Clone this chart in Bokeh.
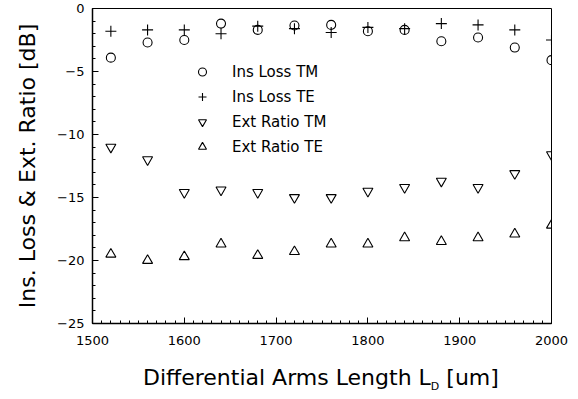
from bokeh.plotting import figure
from bokeh.models import Range1d, FixedTicker, Legend, Div
from bokeh.layouts import column
from bokeh.embed import file_html
from bokeh.resources import INLINE

# ---- data ----
lengths = [1520, 1560, 1600, 1640, 1680, 1720, 1760, 1800, 1840, 1880, 1920, 1960, 2000]
ins_loss_tm = [-3.9, -2.7, -2.5, -1.2, -1.7, -1.35, -1.3, -1.8, -1.7, -2.6, -2.3, -3.1, -4.1]
ins_loss_te = [-1.8, -1.7, -1.7, -2.0, -1.4, -1.6, -1.9, -1.5, -1.6, -1.2, -1.3, -1.7, -2.5]
ext_ratio_tm = [-11.0, -12.0, -14.6, -14.4, -14.6, -15.0, -15.0, -14.5, -14.2, -13.7, -14.2, -13.1, -11.6]
ext_ratio_te = [-19.5, -20.0, -19.7, -18.7, -19.6, -19.3, -18.7, -18.7, -18.2, -18.5, -18.2, -17.9, -17.2]

x_ticks = [1500, 1600, 1700, 1800, 1900, 2000]
y_ticks = [-25, -20, -15, -10, -5, 0]
y_tick_labels = {-25: "\u221225", -20: "\u221220", -15: "\u221215", -10: "\u221210", -5: "\u22125", 0: "0"}

FONT = "DejaVu Sans"

p = figure(width=570, height=355, output_backend="svg", toolbar_location=None,
           x_range=Range1d(1500, 2000), y_range=Range1d(-25, 0),
           min_border_left=92, min_border_right=19, min_border_top=8, min_border_bottom=32)

p.xgrid.visible = False
p.ygrid.visible = False
p.outline_line_color = "black"
p.outline_line_width = 1
p.background_fill_color = "white"
p.border_fill_color = "white"

p.xaxis.ticker = FixedTicker(ticks=x_ticks, minor_ticks=list(range(1500, 2001, 10)))
p.yaxis.ticker = FixedTicker(ticks=y_ticks, minor_ticks=list(range(-25, 1, 1)))
p.yaxis.major_label_overrides = y_tick_labels

for ax in (p.xaxis, p.yaxis):
    ax.axis_line_color = "black"
    ax.axis_line_width = 1.5
    ax.major_tick_in = 6
    ax.major_tick_out = 0
    ax.minor_tick_in = 3
    ax.minor_tick_out = 0
    ax.major_tick_line_color = "black"
    ax.minor_tick_line_color = "black"
    ax.major_label_text_font = FONT
    ax.major_label_text_font_size = "13px"
    ax.major_label_text_color = "black"
p.xaxis.major_label_standoff = 12
p.yaxis.major_label_standoff = 8

p.yaxis.axis_label = "Ins. Loss & Ext. Ratio [dB]"
p.yaxis.axis_label_text_font = FONT
p.yaxis.axis_label_text_font_size = "22px"
p.yaxis.axis_label_text_font_style = "normal"
p.yaxis.axis_label_text_color = "black"
p.yaxis.axis_label_standoff = 14

r_tm = p.scatter(lengths, ins_loss_tm, marker="circle", size=9, fill_color=None,
                 line_color="black", line_width=1.1)
r_te = p.scatter(lengths, ins_loss_te, marker="cross", size=11,
                 line_color="black", line_width=1.1)
r_etm = p.scatter(lengths, ext_ratio_tm, marker="inverted_triangle", size=10, fill_color=None,
                  line_color="black", line_width=1.1)
r_ete = p.scatter(lengths, ext_ratio_te, marker="triangle", size=10, fill_color=None,
                  line_color="black", line_width=1.1)

legend = Legend(items=[("Ins Loss TM", [r_tm]), ("Ins Loss TE", [r_te]),
                       ("Ext Ratio TM", [r_etm]), ("Ext Ratio TE", [r_ete])],
                location=(100, 164), padding=0, margin=0, spacing=0,
                glyph_width=20, glyph_height=25, label_height=25, label_standoff=20,
                label_text_font=FONT, label_text_font_size="15px",
                label_text_color="black",
                border_line_color=None, background_fill_alpha=0)
p.add_layout(legend, "center")

xtitle = Div(
    text=('<div style="font-family:\'DejaVu Sans\';font-size:22px;line-height:20px;'
          'color:black;white-space:nowrap;padding-left:143px;padding-top:13px;">'
          'Differential Arms Length L<span style="font-size:11px;position:relative;top:5px;'
          'line-height:0;">D</span> [um]</div>'),
    width=570, height=36, margin=(0, 0, 0, 0))

layout = column(p, xtitle, spacing=0)

open("out.html", "w").write(file_html(layout, INLINE))
